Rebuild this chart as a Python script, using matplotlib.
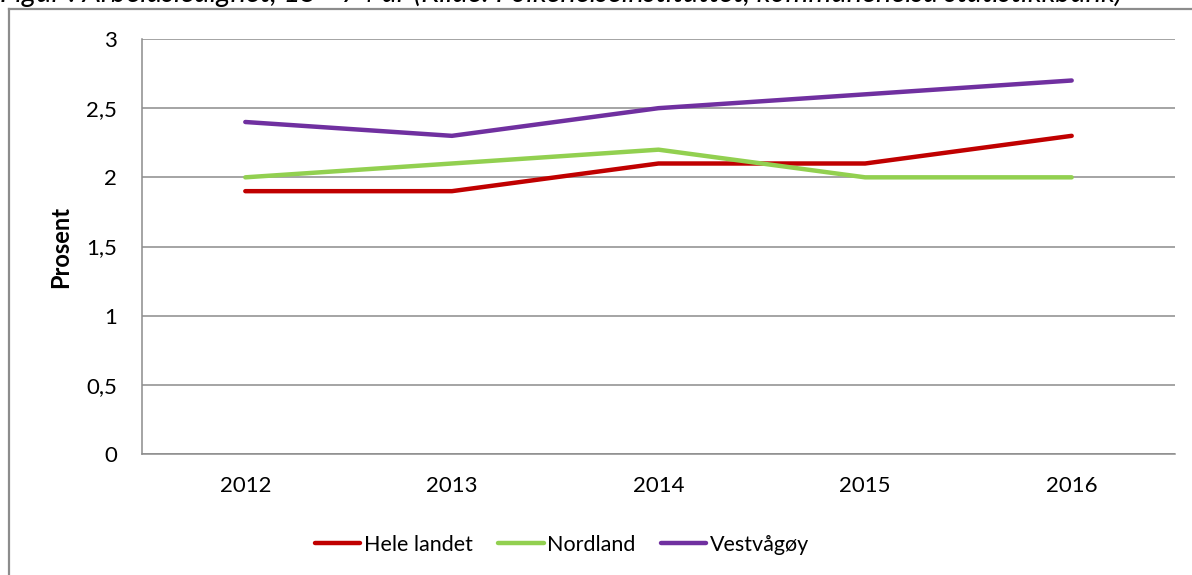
import matplotlib
matplotlib.use("Agg")
import matplotlib.pyplot as plt
from matplotlib.lines import Line2D
from matplotlib.ticker import FuncFormatter

# Data
years = ["2012", "2013", "2014", "2015", "2016"]
hele_landet = [1.9, 1.9, 2.1, 2.1, 2.3]
nordland = [2.0, 2.1, 2.2, 2.0, 2.0]
vestvagoy = [2.4, 2.3, 2.5, 2.6, 2.7]
series_names = ["Hele landet", "Nordland", "Vestvågøy"]
colors = ["#C00000", "#92D050", "#7030A0"]
title = "Figur : Arbeidsledighet, 15 - 74 år (Kilde: Folkehelseinstituttet, kommunehelsa statistikkbank)"

plt.rcParams['font.family'] = ['Lato', 'DejaVu Sans']

W, H = 1192, 575
fig = plt.figure(figsize=(W / 100, H / 100), dpi=100)
ax = fig.add_axes([142 / W, 1 - 454 / H, (1175 - 142) / W, (454 - 39) / H])

x = range(len(years))
for vals, name, c in zip([hele_landet, nordland, vestvagoy], series_names, colors):
    ax.plot(x, vals, color=c, lw=3.2, solid_capstyle='round', solid_joinstyle='round', label=name)

ax.set_xlim(-0.5, len(years) - 0.5)
ax.set_ylim(0, 3)
ax.set_yticks([0, 0.5, 1, 1.5, 2, 2.5, 3])
ax.yaxis.set_major_formatter(FuncFormatter(lambda v, p: f"{v:g}".replace(".", ",")))
ax.set_xticks(list(x))
ax.set_xticklabels(years)
ax.grid(axis='y', color='#8c8c8c', lw=1.1)
ax.set_axisbelow(True)
for s in ['top', 'right']:
    ax.spines[s].set_visible(False)
for s in ['left', 'bottom']:
    ax.spines[s].set_color('#8c8c8c')
    ax.spines[s].set_linewidth(1.1)
ax.tick_params(axis='both', length=0, labelsize=16)
ax.tick_params(axis='y', pad=18)
ax.tick_params(axis='x', pad=16)
ax.set_ylabel("Prosent", fontsize=17, fontweight='bold', labelpad=10)

fig.legend(loc='center', bbox_to_anchor=(562 / W, 1 - 545 / H), ncol=3, frameon=False,
           fontsize=15.5, handlelength=2.1, handletextpad=0.15, columnspacing=1.2)

# outer chart border (cut off at right and bottom)
fig.add_artist(Line2D([9 / W, 1], [1 - 9 / H] * 2, transform=fig.transFigure, color='#8c8c8c', lw=1.6))
fig.add_artist(Line2D([9 / W] * 2, [0, 1 - 9 / H], transform=fig.transFigure, color='#8c8c8c', lw=1.6))

# caption above chart, mostly cut off at top like in the source
fig.text(0.0, 1.0 + 7 / H, title, fontsize=21, fontstyle='italic', ha='left', va='center')

fig.savefig("out.png", dpi=100)
